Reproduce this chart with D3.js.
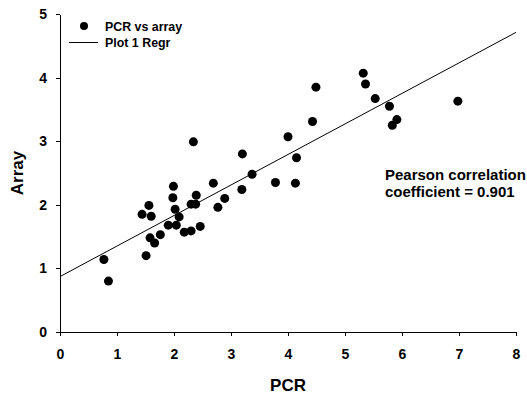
<!DOCTYPE html>
<html>
<head>
<meta charset="utf-8">
<script src="https://cdn.jsdelivr.net/npm/d3@7"></script>
<style>
  html, body { margin: 0; padding: 0; background: #fff; }
  svg { display: block; font-family: "Liberation Sans", Arial, sans-serif; font-weight: bold; }
  .axis path, .axis line { stroke: #000; stroke-width: 1; shape-rendering: crispEdges; }
  .axis text { fill: #000; font-size: 14px; font-weight: bold; }
</style>
</head>
<body>
<svg id="chart" width="527" height="394"></svg>
<script>
// PCR vs array measurements
const pcr = [0.77, 0.85, 1.44, 1.56, 1.60, 1.51, 1.58, 1.66, 1.76, 1.90,
             1.99, 1.98, 2.02, 2.04, 2.09, 2.18, 2.30, 2.30, 2.38, 2.39,
             2.46, 2.69, 2.77, 2.34, 2.89, 3.19, 3.20, 3.37, 3.78, 4.13,
             4.15, 4.00, 4.43, 4.49, 5.32, 5.36, 5.53, 5.78, 5.91, 5.83, 6.98];
const array = [1.14, 0.80, 1.85, 1.99, 1.82, 1.20, 1.48, 1.40, 1.53, 1.68,
               2.29, 2.11, 1.93, 1.68, 1.81, 1.57, 1.59, 2.01, 2.01, 2.15,
               1.66, 2.34, 1.96, 2.99, 2.10, 2.24, 2.80, 2.48, 2.35, 2.34,
               2.74, 3.07, 3.31, 3.85, 4.07, 3.90, 3.67, 3.55, 3.34, 3.25, 3.63];
const xTicks = [0, 1, 2, 3, 4, 5, 6, 7, 8];
const yTicks = [0, 1, 2, 3, 4, 5];
const legendLabels = ["PCR vs array", "Plot 1 Regr"];
const pearsonLines = ["Pearson correlation", "coefficient = 0.901"];

const svg = d3.select("#chart");
const x = d3.scaleLinear().domain([0, 8]).range([60, 516]);
const y = d3.scaleLinear().domain([0, 5]).range([332, 14]);

// least-squares fit of array on PCR
const mx = d3.mean(pcr), my = d3.mean(array);
let sxy = 0, sxx = 0;
pcr.forEach((v, i) => { sxy += (v - mx) * (array[i] - my); sxx += (v - mx) * (v - mx); });
const slope = sxy / sxx;
const intercept = my - slope * mx;

// axes
svg.append("g").attr("class", "axis")
  .attr("transform", `translate(0,${y(0)})`)
  .call(d3.axisBottom(x).tickValues(xTicks).tickFormat(d3.format("d"))
    .tickSize(4).tickSizeOuter(0).tickPadding(13));

svg.append("g").attr("class", "axis")
  .attr("transform", `translate(${x(0)},0)`)
  .call(d3.axisLeft(y).tickValues(yTicks).tickFormat(d3.format("d"))
    .tickSize(4).tickSizeOuter(0).tickPadding(9));

// regression line
const fitX = [0, 8];
svg.append("path")
  .datum(fitX.map(v => [v, intercept + slope * v]))
  .attr("d", d3.line().x(d => x(d[0])).y(d => y(d[1])))
  .attr("fill", "none").attr("stroke", "#000").attr("stroke-width", 1);

// scatter points
svg.append("g").selectAll("circle")
  .data(pcr.map((v, i) => [v, array[i]]))
  .join("circle")
  .attr("cx", d => x(d[0])).attr("cy", d => y(d[1]))
  .attr("r", 4.5).attr("fill", "#000");

// axis titles
svg.append("text").attr("x", (x(0) + x(8)) / 2).attr("y", 391)
  .attr("text-anchor", "middle").attr("font-size", 17).text("PCR");
svg.append("text")
  .attr("transform", `translate(23,${(y(0) + y(5)) / 2}) rotate(-90)`)
  .attr("text-anchor", "middle").attr("font-size", 17).text("Array");

// legend
const lg = svg.append("g").attr("font-size", 12.4);
lg.append("circle").attr("cx", 84).attr("cy", 26).attr("r", 4).attr("fill", "#000");
lg.append("text").attr("x", 105).attr("y", 31).text(legendLabels[0]);
lg.append("line").attr("x1", 69).attr("x2", 98).attr("y1", 42.5).attr("y2", 42.5)
  .attr("stroke", "#000").attr("stroke-width", 1);
lg.append("text").attr("x", 105).attr("y", 47).text(legendLabels[1]);

// correlation note
svg.append("g").attr("font-size", 15)
  .selectAll("text").data(pearsonLines).join("text")
  .attr("x", 385).attr("y", (d, i) => 180 + i * 17).text(d => d);
</script>
</body>
</html>
